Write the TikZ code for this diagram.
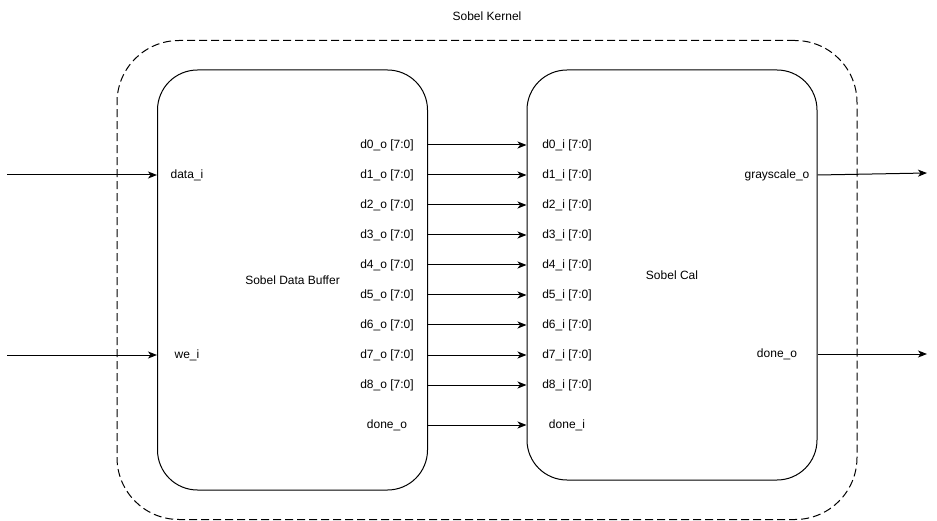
\documentclass[tikz,border=0pt]{standalone}
\usepackage{fontspec}
\setmainfont{Liberation Sans}
\usetikzlibrary{arrows.meta}
\begin{document}
\begin{tikzpicture}[x=1pt,y=-1pt,
  every node/.style={font=\fontsize{12pt}{14pt}\selectfont, inner sep=0pt},
  block/.style={draw, line width=1pt, rounded corners=40pt},
  outer/.style={draw, line width=1pt, rounded corners=62pt, dash pattern=on 8pt off 4pt},
  arr/.style={line width=1pt, -{Stealth[length=9pt,width=7pt,inset=2.5pt]}},
  lbl/.style={anchor=center}
]
\useasboundingbox (0,0) rectangle (937,521);
\fill[white] (0,0) rectangle (937,521);

% outer dashed kernel
\node[outer, minimum width=740pt, minimum height=479pt] (kernel) at (487,280) {};
\node (title) at (487,16) {Sobel Kernel};

% blocks
\node[block, minimum width=270pt, minimum height=420pt] (buf) at (292.5,280) {Sobel Data Buffer};
\node[block, minimum width=290pt, minimum height=410pt] (cal) at (672,275) {Sobel Cal};

% buffer inputs
\node (datai) at (187,175) {data\_i};
\node (wei) at (187,355) {we\_i};
\coordinate (inD) at (7,175);
\coordinate (inW) at (7,355);
\draw[arr] (inD) -- (buf.west |- datai);
\draw[arr] (inW) -- (buf.west |- wei);

% buffer outputs and cal inputs
\foreach \i in {0,...,8} {
  \node (bo\i) at (387,{145+30*\i}) {d\i\_o [7:0]};
  \node (ci\i) at (567,{145+30*\i}) {d\i\_i [7:0]};
  \draw[arr] (buf.east |- bo\i) -- (cal.west |- ci\i);
}
\node (bdone) at (387,425) {done\_o};
\node (cdone) at (567,425) {done\_i};
\draw[arr] (buf.east |- bdone) -- (cal.west |- cdone);

% cal outputs
\node (gray) at (777,175) {grayscale\_o};
\node (cdo) at (777,354) {done\_o};
\coordinate (outG) at (927,173);
\coordinate (outD) at (927,354);
\draw[arr] (cal.east |- gray) -- (outG);
\draw[arr] (cal.east |- cdo) -- (outD);
\end{tikzpicture}
\end{document}
